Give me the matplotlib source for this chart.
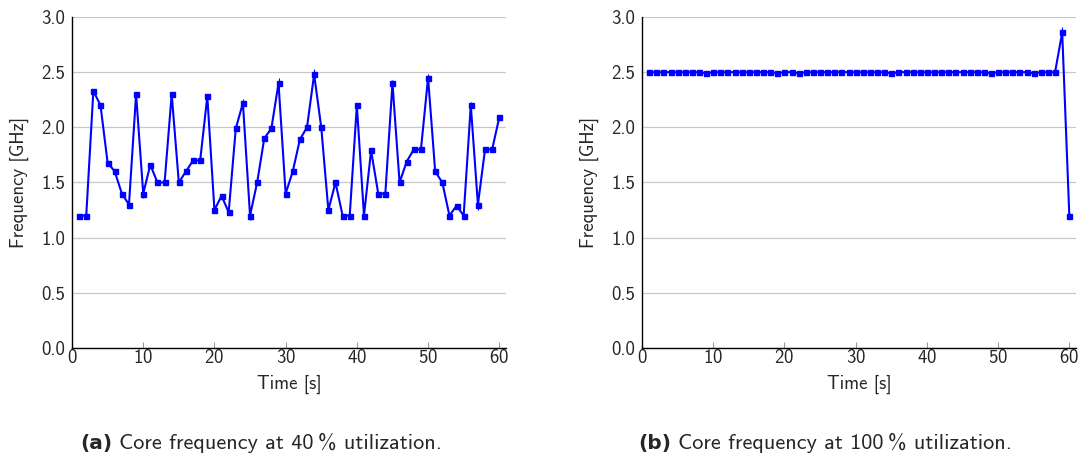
import numpy as np
import matplotlib
matplotlib.use("Agg")
import matplotlib.pyplot as plt

# Per-second core frequency samples (GHz)
time_s = list(range(1, 61))

freq_40 = [1.20, 1.20, 2.33, 2.20, 1.68, 1.60, 1.40, 1.30, 2.30, 1.40,
           1.66, 1.50, 1.50, 2.30, 1.50, 1.60, 1.70, 1.70, 2.28, 1.25,
           1.38, 1.23, 1.99, 2.22, 1.20, 1.50, 1.90, 1.99, 2.40, 1.40,
           1.60, 1.89, 2.00, 2.48, 2.00, 1.25, 1.50, 1.20, 1.20, 2.20,
           1.20, 1.79, 1.40, 1.40, 2.40, 1.50, 1.69, 1.80, 1.80, 2.45,
           1.60, 1.50, 1.20, 1.29, 1.20, 2.20, 1.30, 1.80, 1.80, 2.09]

freq_100 = [2.50, 2.50, 2.50, 2.50, 2.50, 2.50, 2.50, 2.50, 2.49, 2.50,
            2.50, 2.50, 2.50, 2.50, 2.50, 2.50, 2.50, 2.50, 2.49, 2.50,
            2.50, 2.49, 2.50, 2.50, 2.50, 2.50, 2.50, 2.50, 2.50, 2.50,
            2.50, 2.50, 2.50, 2.50, 2.49, 2.50, 2.50, 2.50, 2.50, 2.50,
            2.50, 2.50, 2.50, 2.50, 2.50, 2.50, 2.50, 2.50, 2.49, 2.50,
            2.50, 2.50, 2.50, 2.50, 2.49, 2.50, 2.50, 2.50, 2.86, 1.20]

# Standard deviation of each sample (GHz)
err_40 = [0.01, 0.01, 0.02, 0.01, 0.01, 0.01, 0.01, 0.01, 0.02, 0.04,
          0.01, 0.01, 0.01, 0.02, 0.01, 0.01, 0.01, 0.01, 0.02, 0.01,
          0.02, 0.02, 0.02, 0.04, 0.04, 0.01, 0.01, 0.01, 0.05, 0.02,
          0.01, 0.01, 0.01, 0.05, 0.01, 0.02, 0.01, 0.01, 0.01, 0.02,
          0.01, 0.02, 0.01, 0.01, 0.03, 0.02, 0.01, 0.01, 0.01, 0.03,
          0.01, 0.01, 0.01, 0.01, 0.01, 0.03, 0.05, 0.01, 0.01, 0.01]
err_100 = [0.005] * 58 + [0.05, 0.01]

panels = [
    (freq_40, err_40, "(a)", "Core frequency at 40\u2009% utilization."),
    (freq_100, err_100, "(b)", "Core frequency at 100\u2009% utilization."),
]

plt.rcParams["font.family"] = ["cmss10", "DejaVu Sans"]
plt.rcParams["axes.formatter.use_mathtext"] = True

fig = plt.figure(figsize=(10.86, 4.58), dpi=100)
lefts = [0.0663, 0.5912]
caption_x = [80 / 1086, 638 / 1086]
text_color = "#262626"
fs = 13.5

fig.canvas.draw()
renderer = fig.canvas.get_renderer()

for left, cx, (vals, errs, tag, caption) in zip(lefts, caption_x, panels):
    ax = fig.add_axes([left, 0.2402, 0.4000, 0.7227])
    ax.errorbar(time_s, vals, yerr=errs, color="#0000ff", lw=1.5,
                marker="s", ms=3.6, ecolor="#0000ff", elinewidth=0.8,
                capsize=0, zorder=3)
    ax.set_xlim(0, 61)
    ax.set_ylim(0, 3.0)
    ax.set_xticks([0, 10, 20, 30, 40, 50, 60])
    ax.set_yticks([0.0, 0.5, 1.0, 1.5, 2.0, 2.5, 3.0])
    ax.set_yticklabels([f"{v:.1f}" for v in ax.get_yticks()])
    ax.grid(axis="y", color="#c8c8c8", lw=0.9, zorder=0)
    for s in ("top", "right"):
        ax.spines[s].set_visible(False)
    for s in ("left", "bottom"):
        ax.spines[s].set_color("#000000")
        ax.spines[s].set_linewidth(1.0)
    ax.tick_params(axis="x", direction="in", length=4, color="#999999",
                   labelsize=fs, labelcolor=text_color, pad=1)
    ax.tick_params(axis="y", direction="in", length=0,
                   labelsize=fs, labelcolor=text_color, pad=5)
    ax.set_xlabel("Time [s]", fontsize=fs, color=text_color, labelpad=5)
    ax.set_ylabel("Frequency [GHz]", fontsize=fs, color=text_color,
                  labelpad=9)

    t1 = fig.text(cx, 0.02, tag, fontsize=14.5, fontweight="bold",
                  family=["DejaVu Sans"], color=text_color, ha="left",
                  va="baseline")
    bb = t1.get_window_extent(renderer=renderer)
    x2 = (bb.x1 + 7) / fig.bbox.width
    fig.text(x2, 0.02, caption, fontsize=16, color=text_color,
             ha="left", va="baseline")

fig.savefig("out.png", dpi=100)
